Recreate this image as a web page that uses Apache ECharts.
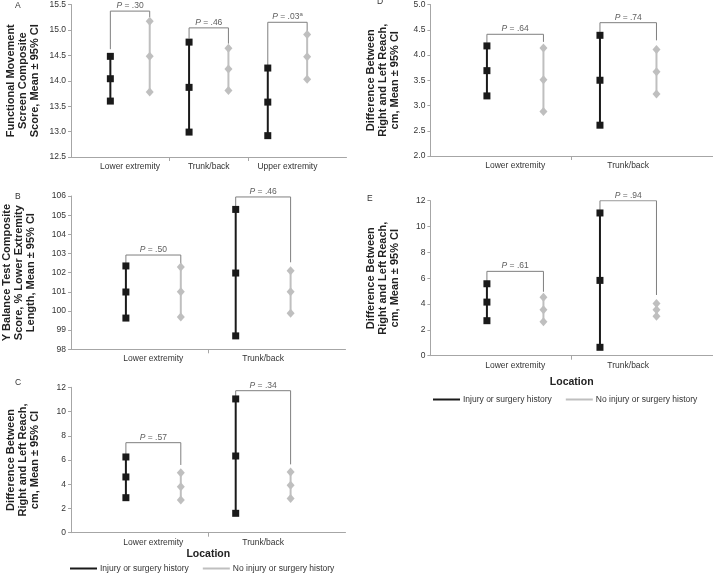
<!DOCTYPE html>
<html><head><meta charset="utf-8">
<script src="https://cdn.jsdelivr.net/npm/echarts@6/dist/echarts.min.js"></script>
<style>html,body{margin:0;padding:0;background:#fff}#c{width:713px;height:574px}</style>
</head><body><div id="c"></div>
<script>
// ---------- data ----------
const groups = ['Injury or surgery history', 'No injury or surgery history'];
const catsA = ['Lower extremity', 'Trunk/back', 'Upper extremity'];
const catsB = ['Lower extremity', 'Trunk/back'];

// each entry: [lower CI, mean, upper CI]
const injA = [[13.60, 14.04, 14.48], [12.99, 13.87, 14.76], [12.92, 13.58, 14.25]];
const noA  = [[13.78, 14.48, 15.17], [13.81, 14.23, 14.64], [14.03, 14.47, 14.91]];
const pA   = ['.30', '.46', '.03'];
const supA = ['', '', 'a'];
// bracket: [level, left leg end, right leg end]
const brA  = [[15.37, 14.62, 15.25], [15.04, 14.83, 14.73], [15.15, 14.30, 14.96]];

const injB = [[99.63, 100.99, 102.35], [98.70, 101.98, 105.30]];
const noB  = [[99.69, 101.00, 102.30], [99.88, 101.00, 102.10]];
const pB   = ['.50', '.46'];
const brB  = [[102.92, 102.45, 102.40], [105.95, 105.43, 102.54]];

const injC = [[2.89, 4.60, 6.25], [1.60, 6.33, 11.04]];
const noC  = [[2.70, 3.80, 4.95], [2.83, 3.91, 5.01]];
const pC   = ['.57', '.34'];
const brC  = [[7.43, 6.41, 5.59], [11.72, 11.28, 5.64]];

const injD = [[3.19, 3.69, 4.18], [2.61, 3.50, 4.39]];
const noD  = [[2.88, 3.51, 4.14], [3.23, 3.67, 4.11]];
const pD   = ['.64', '.74'];
const brD  = [[4.41, 4.24, 4.26], [4.64, 4.45, 4.29]];

const injE = [[2.71, 4.15, 5.57], [0.65, 5.83, 11.05]];
const noE  = [[2.63, 3.56, 4.52], [3.05, 3.56, 4.05]];
const pE   = ['.61', '.94'];
const brE  = [[6.53, 5.73, 4.95], [12.00, 11.20, 4.70]];

const titleFMS = 'Functional Movement\nScreen Composite\nScore, Mean ± 95% CI';
const titleYBT = 'Y Balance Test Composite\nScore, % Lower Extremity\nLength, Mean ± 95% CI';
const titleDiff = 'Difference Between\nRight and Left Reach,\ncm, Mean ± 95% CI';
const xName = 'Location';

// ---------- layout ----------
const FONT = '"Liberation Sans", Arial, sans-serif';
const panels = [
  {letter:'A', lx:18, ly:6, cats:catsA, inj:injA, no:noA, p:pA, sup:supA, br:brA, min:12.5, max:15.5, interval:0.5, dec:1,
   grid:{left:71, top:4, width:275.5, height:153}, title:titleFMS, nameGap:30},
  {letter:'B', lx:18, ly:197, cats:catsB, inj:injB, no:noB, p:pB, br:brB, min:98, max:106, interval:1, dec:0,
   grid:{left:71, top:196, width:274.5, height:153.3}, title:titleYBT, nameGap:34},
  {letter:'C', lx:18, ly:383, cats:catsB, inj:injC, no:noC, p:pC, br:brC, min:0, max:12, interval:2, dec:0,
   grid:{left:71, top:387.3, width:274.5, height:145.4}, title:titleDiff, nameGap:30, xName:xName, xNameGap:16},
  {letter:'D', lx:380, ly:2, cats:catsB, inj:injD, no:noD, p:pD, br:brD, min:2, max:5, interval:0.5, dec:1,
   grid:{left:430.4, top:4, width:282.6, height:152}, title:titleDiff, nameGap:29},
  {letter:'E', lx:370, ly:199, cats:catsB, inj:injE, no:noE, p:pE, br:brE, min:0, max:12, interval:2, dec:0,
   grid:{left:430.4, top:200.7, width:282.6, height:155}, title:titleDiff, nameGap:29, xName:xName, xNameGap:21}
];

const AXIS_COLOR = '#a6a6a6';
const TEXT_COLOR = '#333';
const BLACK = '#1a1a1a';
const GRAY = '#bfbfbf';

const grids = [], xAxes = [], yAxes = [], series = [], graphics = [];
panels.forEach((pn, i) => {
  const n = pn.cats.length;
  grids.push(Object.assign({containLabel:false}, pn.grid));
  const labelPos = pn.cats.map((c, j) => 2 * j + 1.5);
  const tickPos = [];
  for (let j = 1; j < n; j++) tickPos.push(2 * j + 0.5);
  xAxes.push({
    type:'value', gridIndex:i, min:0, max:2 * n + 1,
    axisLine:{show:true, onZero:false, lineStyle:{color:AXIS_COLOR, width:1}},
    splitLine:{show:false},
    axisTick:{show:true, customValues:tickPos, length:4, lineStyle:{color:AXIS_COLOR}},
    axisLabel:{show:true, customValues:labelPos, margin:5, fontSize:8.5, color:TEXT_COLOR, fontFamily:FONT,
      formatter: v => pn.cats[Math.round((v - 1.5) / 2)]},
    name: pn.xName || '', nameLocation:'middle', nameGap: pn.xNameGap || 0,
    nameTextStyle:{fontWeight:'bold', fontSize:10.5, color:'#222', fontFamily:FONT}
  });
  yAxes.push({
    type:'value', gridIndex:i, min:pn.min, max:pn.max, interval:pn.interval,
    axisLine:{show:true, lineStyle:{color:AXIS_COLOR, width:1}},
    axisTick:{show:true, length:3, lineStyle:{color:AXIS_COLOR}},
    splitLine:{show:false},
    axisLabel:{margin:5, fontSize:8.5, color:TEXT_COLOR, fontFamily:FONT, formatter: v => v.toFixed(pn.dec)},
    name: pn.title, nameLocation:'middle', nameRotate:90, nameGap:pn.nameGap,
    nameTextStyle:{fontWeight:'bold', fontSize:11, lineHeight:12, color:'#222', fontFamily:FONT, align:'center'}
  });
  graphics.push({type:'text', left:pn.lx - 3, top:pn.ly - 5,
    style:{text:pn.letter, font:'8.5px ' + FONT, fill:TEXT_COLOR}});
  for (let j = 0; j < n; j++) {
    const xb = 2 * j + 1, xg = 2 * j + 2;
    const br = pn.br[j];
    series.push({
      type:'line', name:'bracket', xAxisIndex:i, yAxisIndex:i, silent:true, symbol:'none', z:1,
      data:[[xb, br[1]], [xb, br[0]], [xg, br[0]], [xg, br[2]]],
      lineStyle:{color:'#7f7f7f', width:1}
    });
    const sup = pn.sup ? pn.sup[j] : '';
    series.push({
      type:'scatter', name:'plabel', xAxisIndex:i, yAxisIndex:i, silent:true, symbolSize:0, z:4,
      data:[[xb + 0.5, br[0]]],
      label:{show:true, position:'top', distance:1,
        formatter: '{i|P} = ' + pn.p[j] + (sup ? '{s|' + sup + '}' : ''),
        fontSize:8.5, color:TEXT_COLOR, fontFamily:FONT,
        rich:{i:{fontStyle:'italic', fontSize:8.5, color:TEXT_COLOR, fontFamily:FONT},
              s:{fontSize:6, verticalAlign:'top', color:TEXT_COLOR, fontFamily:FONT, padding:[0,0,4,0]}}}
    });
    series.push({
      type:'line', name:groups[1], xAxisIndex:i, yAxisIndex:i, z:2,
      data:pn.no[j].map(v => [xg, v]),
      symbol:'diamond', symbolSize:[8, 9], showAllSymbol:true,
      lineStyle:{color:GRAY, width:2}, itemStyle:{color:GRAY}
    });
    series.push({
      type:'line', name:groups[0], xAxisIndex:i, yAxisIndex:i, z:3,
      data:pn.inj[j].map(v => [xb, v]),
      symbol:'rect', symbolSize:7, showAllSymbol:true,
      lineStyle:{color:BLACK, width:2}, itemStyle:{color:BLACK}
    });
  }
});

const legendBase = {data:groups, icon:'rect', itemWidth:27, itemHeight:2, itemGap:14, orient:'horizontal',
  textStyle:{fontSize:8.5, color:TEXT_COLOR, fontFamily:FONT, padding:[0,0,0,-2]}, padding:0, selectedMode:false};

const chart = echarts.init(document.getElementById('c'), null, {renderer:'canvas'});
chart.setOption({
  animation:false,
  backgroundColor:'#fff',
  textStyle:{fontFamily:FONT},
  grid:grids, xAxis:xAxes, yAxis:yAxes, series:series,
  legend:[Object.assign({left:70, top:564}, legendBase), Object.assign({left:433, top:395}, legendBase)],
  graphic:graphics
});
</script></body></html>
